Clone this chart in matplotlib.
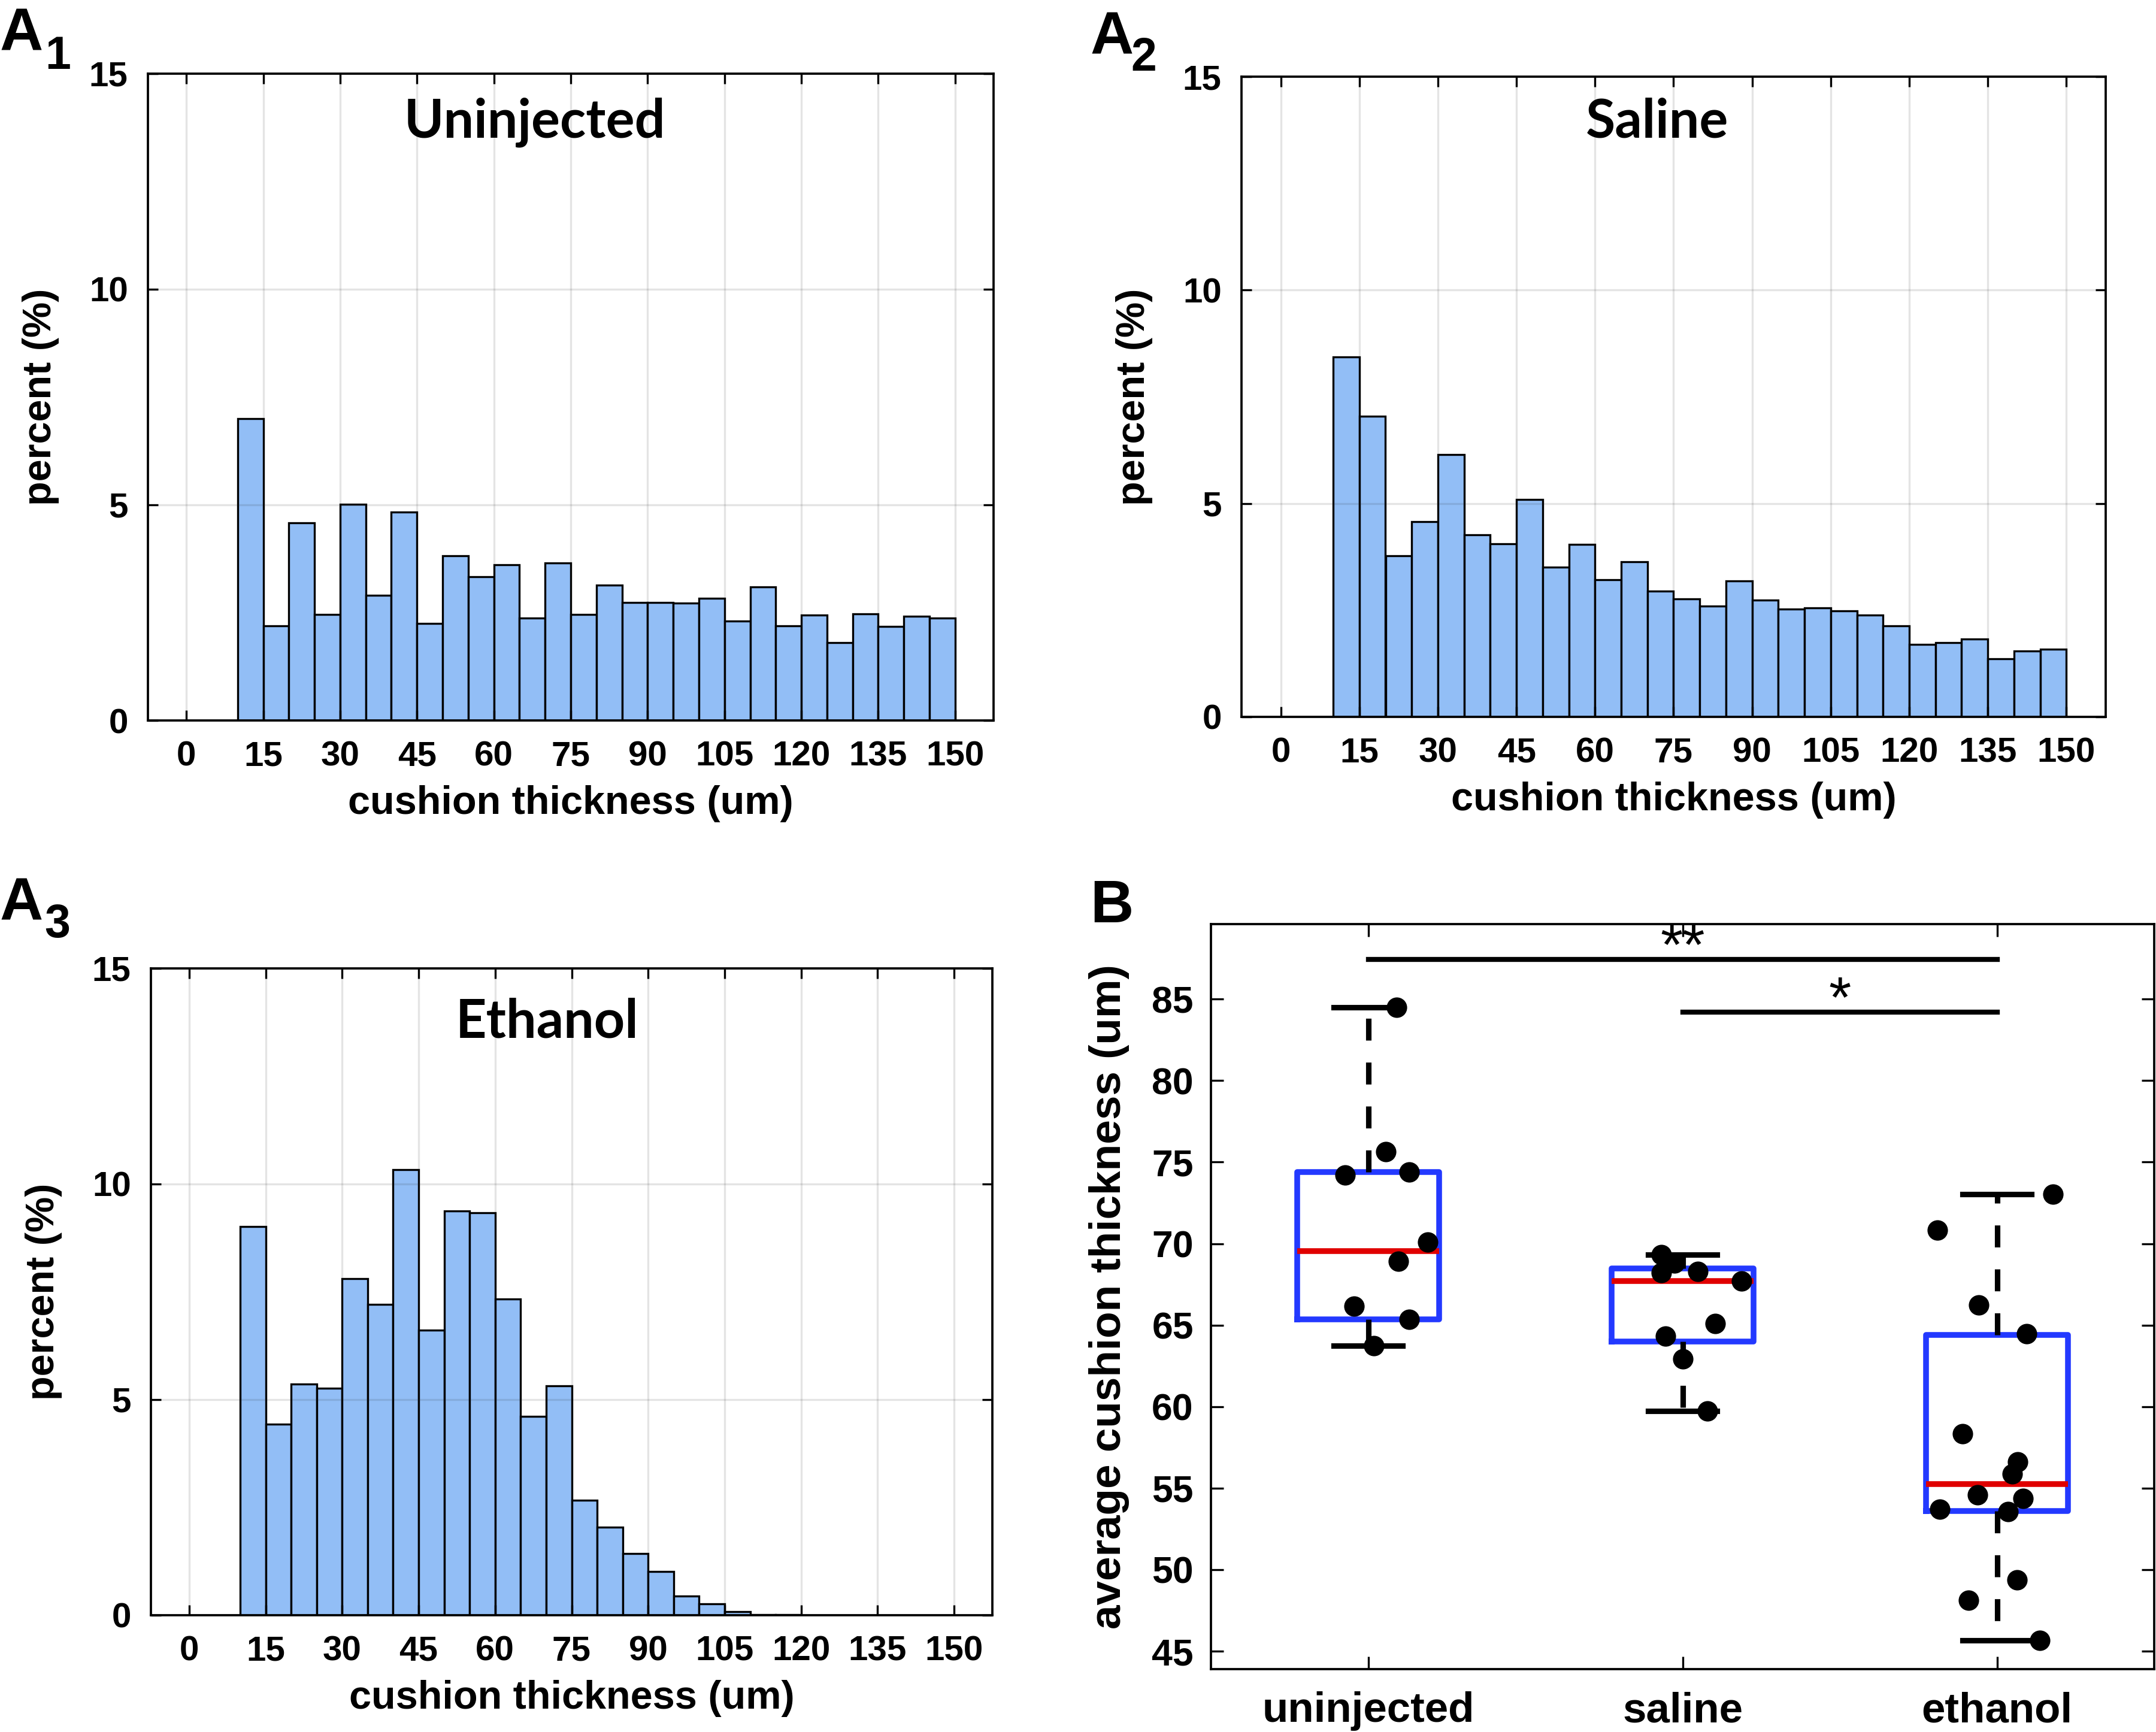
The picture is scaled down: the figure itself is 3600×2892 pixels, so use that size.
import numpy as np
import matplotlib
matplotlib.use("Agg")
import matplotlib.pyplot as plt

plt.rcParams['font.family'] = ['Liberation Sans', 'DejaVu Sans']
plt.rcParams['font.weight'] = 'bold'
plt.rcParams['axes.labelweight'] = 'bold'

# histogram data (percent per 5 um bin, 0-150 um)
bin_edges = np.arange(0, 155, 5)
uninjected_pct = [0, 0, 7.00, 2.20, 4.58, 2.46, 5.01, 2.90, 4.84, 2.25,
                  3.82, 3.33, 3.61, 2.38, 3.65, 2.46, 3.14, 2.74, 2.74, 2.72,
                  2.84, 2.31, 3.10, 2.20, 2.44, 1.81, 2.47, 2.18, 2.42, 2.37]
saline_pct = [0, 0, 8.44, 7.04, 3.78, 4.58, 6.15, 4.26, 4.06, 5.10,
              3.51, 4.04, 3.21, 3.63, 2.95, 2.77, 2.60, 3.19, 2.73, 2.53,
              2.55, 2.49, 2.39, 2.13, 1.70, 1.74, 1.83, 1.36, 1.54, 1.59]
ethanol_pct = [0, 0, 9.01, 4.43, 5.36, 5.26, 7.81, 7.21, 10.34, 6.61,
               9.38, 9.33, 7.34, 4.61, 5.32, 2.66, 2.04, 1.43, 1.01, 0.45,
               0.26, 0.09, 0.02, 0.01, 0, 0, 0, 0, 0, 0]
x_ticks = np.arange(0, 151, 15)
y_ticks = [0, 5, 10, 15]

# box plot data (average cushion thickness, um)
groups = ['uninjected', 'saline', 'ethanol']
box_q1 = [65.34, 63.99, 53.61]
box_q3 = [74.39, 68.48, 64.39]
box_med = [69.53, 67.70, 55.24]
whisk_lo = [63.75, 59.73, 45.68]
whisk_hi = [84.49, 69.32, 73.04]
pts_uninjected = [84.49, 75.64, 74.19, 74.39, 70.10, 68.92, 66.15, 65.34, 63.75]
jit_uninjected = [0.09, 0.057, -0.074, 0.13, 0.19, 0.096, -0.044, 0.13, 0.018]
pts_saline = [69.32, 68.82, 68.21, 68.31, 67.70, 65.10, 64.32, 62.94, 59.73]
jit_saline = [-0.068, -0.026, -0.068, 0.048, 0.188, 0.103, -0.055, 0.0, 0.079]
pts_ethanol = [73.04, 70.81, 66.25, 64.46, 58.34, 56.62, 55.88, 54.59, 54.36,
               53.72, 53.58, 49.39, 48.11, 45.68]
jit_ethanol = [0.179, -0.19, -0.059, 0.094, -0.109, 0.066, 0.048, -0.061, 0.083,
               -0.182, 0.035, 0.063, -0.09, 0.136]
sig_pairs = [(1, 3, '**', 87.43), (2, 3, '*', 84.19)]

W, H = 3600, 2892
fig = plt.figure(figsize=(W / 300, H / 300), dpi=300)


def px_axes(l, t, r, b):
    return fig.add_axes([l / W, 1 - b / H, (r - l) / W, (b - t) / H])


def hist_panel(ax, pct, title, tx, ty):
    ax.bar(bin_edges[:-1], pct, width=5, align='edge', color='#92bef6',
           edgecolor='black', linewidth=0.8, zorder=1)
    ax.set_xlim(-7.5, 157.5)
    ax.set_ylim(0, 15)
    ax.set_xticks(x_ticks)
    ax.set_yticks(y_ticks)
    ax.set_axisbelow(False)
    ax.grid(True, color='#262626', alpha=0.12, linewidth=0.8)
    ax.tick_params(direction='in', top=True, right=True, length=4, width=0.8,
                   labelsize=14, pad=8)
    for s in ax.spines.values():
        s.set_linewidth(0.9)
    ax.set_xlabel('cushion thickness (um)', fontsize=16, labelpad=5)
    ax.set_ylabel('percent (%)', fontsize=16, labelpad=12)
    ax.text(tx, ty, title, transform=ax.transAxes, ha='center', va='baseline',
            fontsize=21.5, family='Lato', fontweight='bold')


ax1 = px_axes(247, 123, 1659, 1203)
hist_panel(ax1, uninjected_pct, 'Uninjected', 0.4575, 0.901)
ax2 = px_axes(2073, 128, 3516, 1197)
hist_panel(ax2, saline_pct, 'Saline', 0.481, 0.905)
ax3 = px_axes(252, 1617, 1657, 2697)
hist_panel(ax3, ethanol_pct, 'Ethanol', 0.471, 0.893)

# panel B
axb = px_axes(2022, 1543, 3597, 2787)
stats = []
for i in range(3):
    stats.append(dict(med=box_med[i], q1=box_q1[i], q3=box_q3[i],
                      whislo=whisk_lo[i], whishi=whisk_hi[i], fliers=[]))
axb.bxp(stats, positions=[1, 2, 3], widths=0.45, capwidths=0.22,
        showfliers=False,
        boxprops=dict(color='#2339ff', linewidth=2.3, solid_joinstyle='round'),
        medianprops=dict(color='#e00000', linewidth=2.3),
        whiskerprops=dict(color='black', linewidth=2.2, linestyle=(0, (4, 4))),
        capprops=dict(color='black', linewidth=2.2))
for pos, pts, jit in zip([1, 2, 3], [pts_uninjected, pts_saline, pts_ethanol],
                         [jit_uninjected, jit_saline, jit_ethanol]):
    axb.plot(pos + np.array(jit), pts, 'o', color='black', markersize=7.2,
             zorder=5)
for a, b, star, y in sig_pairs:
    axb.plot([a, b], [y, y], color='black', linewidth=2.0)
    axb.text((a + b) / 2, y - 1.0, star, ha='center', va='bottom',
             fontsize=23, fontweight='normal')
axb.set_xlim(0.5, 3.5)
axb.set_ylim(43.9, 89.6)
axb.set_yticks(np.arange(45, 86, 5))
axb.set_xticks([1, 2, 3])
axb.set_xticklabels(groups, fontsize=17)
axb.tick_params(direction='in', top=True, right=True, length=5, width=0.8,
                labelsize=15, pad=7)
axb.tick_params(axis='x', labelsize=17, pad=9)
for s in axb.spines.values():
    s.set_linewidth(0.9)
axb.set_ylabel('average cushion thickness (um)', fontsize=17.5, labelpad=9)

# panel letters
def panel_label(x, y, letter, sub=None, sx=None, sy=None):
    fig.text(x / W, 1 - y / H, letter, fontsize=24, ha='left', va='baseline')
    if sub:
        fig.text(sx / W, 1 - sy / H, sub, fontsize=18.5, ha='left',
                 va='baseline')


panel_label(0, 85, 'A', '1', 75, 115)
panel_label(1821, 90, 'A', '2', 1888, 118)
panel_label(0, 1537, 'A', '3', 74, 1565)
panel_label(1820, 1540, 'B')

fig.savefig('out.png', dpi=300)
